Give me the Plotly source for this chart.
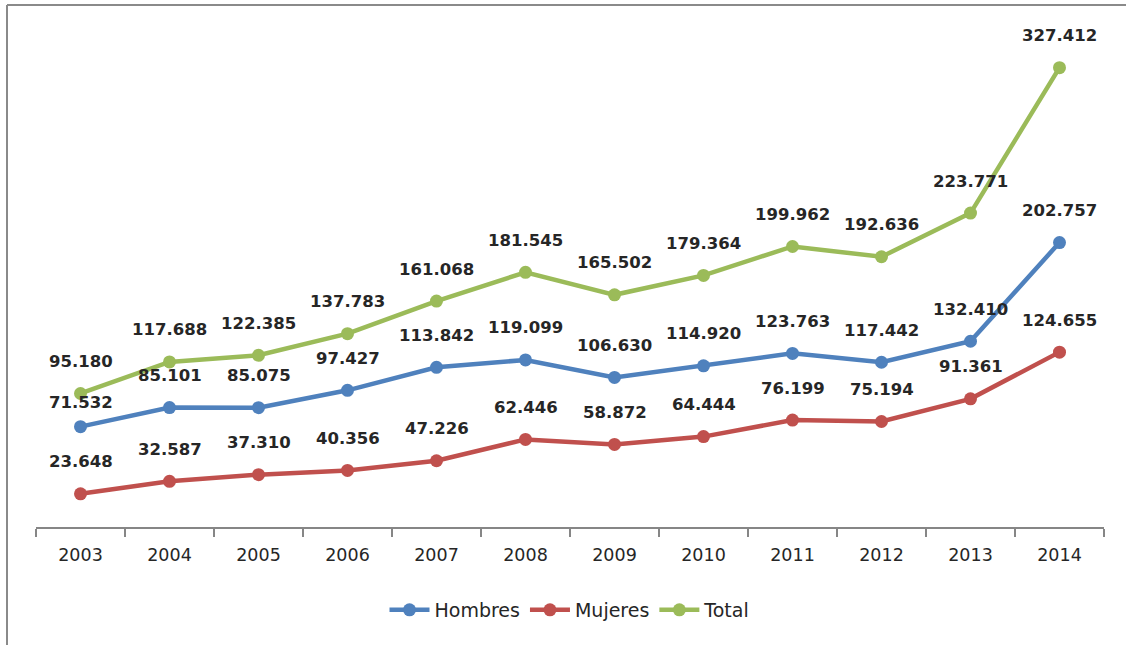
import plotly.graph_objects as go

years = ["2003", "2004", "2005", "2006", "2007", "2008", "2009", "2010", "2011", "2012", "2013", "2014"]
hombres = [71532, 85101, 85075, 97427, 113842, 119099, 106630, 114920, 123763, 117442, 132410, 202757]
mujeres = [23648, 32587, 37310, 40356, 47226, 62446, 58872, 64444, 76199, 75194, 91361, 124655]
total = [95180, 117688, 122385, 137783, 161068, 181545, 165502, 179364, 199962, 192636, 223771, 327412]

series = [
    ("Hombres", hombres, "#4F81BD"),
    ("Mujeres", mujeres, "#C0504D"),
    ("Total", total, "#9BBB59"),
]

# label offset (px above the point); one label was nudged down in the original
label_shift = {"default": 32, ("Hombres", "2003"): 24}


def fmt(v):
    return f"{v:,}".replace(",", ".")


fig = go.Figure()
annotations = []
for name, vals, color in series:
    fig.add_trace(go.Scatter(
        x=years, y=vals, name=name, mode="lines+markers",
        line=dict(color=color, width=4.5),
        marker=dict(color=color, size=13, symbol="circle"),
    ))
    for i, (yr, v) in enumerate(zip(years, vals)):
        annotations.append(dict(
            x=i, y=v, xref="x", yref="y", text="<b>" + fmt(v) + "</b>", showarrow=False,
            yshift=label_shift.get((name, yr), label_shift["default"]),
            yanchor="middle", xanchor="center",
            font=dict(family="DejaVu Sans", size=16.5, color="#262626"),
        ))

W, H = 1129, 645
ml, mr, mt, mb = 36, 25, 36, 118
pw, ph = W - ml - mr, H - mt - mb


def px_x(p):
    return (p - ml) / pw


def px_y(p):
    return (H - mb - p) / ph


shapes = [
    dict(type="line", xref="paper", yref="paper", x0=px_x(7), x1=px_x(7), y0=px_y(5), y1=px_y(645),
         line=dict(color="#8a8a8a", width=2)),
    dict(type="line", xref="paper", yref="paper", x0=px_x(7), x1=px_x(1126), y0=px_y(5), y1=px_y(5),
         line=dict(color="#8a8a8a", width=2)),
]

fig.update_layout(
    width=W, height=H,
    margin=dict(l=ml, r=mr, t=mt, b=mb),
    paper_bgcolor="white", plot_bgcolor="white",
    showlegend=True,
    legend=dict(orientation="h", x=0.5, xanchor="center", y=px_y(610), yanchor="middle",
                font=dict(family="DejaVu Sans", size=19, color="#262626"), itemwidth=40),
    annotations=annotations,
    shapes=shapes,
    xaxis=dict(
        type="category", range=[-0.5, 11.5], showgrid=False, zeroline=False,
        showline=True, linecolor="#868686", linewidth=1.5,
        ticks="outside", tickson="boundaries", ticklen=8, tickwidth=1.5, tickcolor="#868686",
        tickfont=dict(family="DejaVu Sans", size=17.5, color="#262626"),
        ticklabelstandoff=11,
        fixedrange=True,
    ),
    yaxis=dict(range=[0, 350000], showgrid=False, zeroline=False, showline=False,
               showticklabels=False, ticks="", fixedrange=True),
)

fig.write_html("out.html", config={"displayModeBar": False},
               post_script="document.body.style.margin='0';document.body.style.overflow='hidden';")
